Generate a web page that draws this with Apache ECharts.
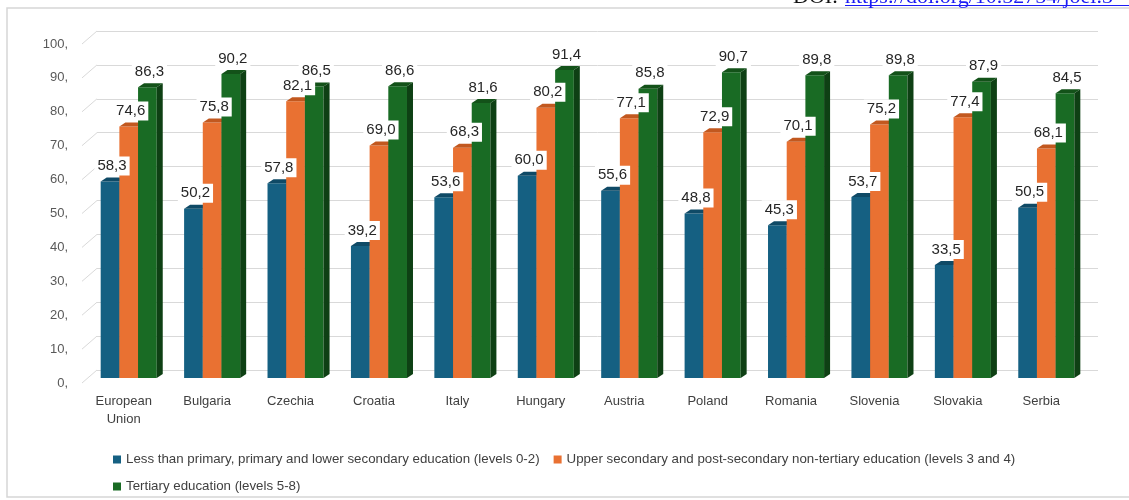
<!DOCTYPE html>
<html>
<head>
<meta charset="utf-8">
<script src="https://cdn.jsdelivr.net/npm/echarts@6/dist/echarts.min.js"></script>
<style>
  html, body { margin: 0; padding: 0; background: #fff; }
  #chart { width: 1129px; height: 500px; }
</style>
</head>
<body>
<div id="chart"></div>
<script>
// data
const categories = ['European\nUnion', 'Bulgaria', 'Czechia', 'Croatia', 'Italy', 'Hungary',
  'Austria', 'Poland', 'Romania', 'Slovenia', 'Slovakia', 'Serbia'];
const lowerSecondary = [58.3, 50.2, 57.8, 39.2, 53.6, 60.0, 55.6, 48.8, 45.3, 53.7, 33.5, 50.5];
const upperSecondary = [74.6, 75.8, 82.1, 69.0, 68.3, 80.2, 77.1, 72.9, 70.1, 75.2, 77.4, 68.1];
const tertiary = [86.3, 90.2, 86.5, 86.6, 81.6, 91.4, 85.8, 90.7, 89.8, 89.8, 87.9, 84.5];
const seriesNames = [
  'Less than primary, primary and lower secondary education (levels 0-2)',
  'Upper secondary and post-secondary non-tertiary education (levels 3 and 4)',
  'Tertiary education (levels 5-8)'
];
const yTicks = [0, 10, 20, 30, 40, 50, 60, 70, 80, 90, 100];

// front, top, side colours for each series
const palette = [
  ['#156082', '#0f4a66', '#0d3f57'],
  ['#e97132', '#c2581f', '#a84c1a'],
  ['#196b24', '#135219', '#0e4014']
];

const chart = echarts.init(document.getElementById('chart'));
const FONT = '"Liberation Sans", Arial, sans-serif';

function fmt(v) {
  return v.toFixed(1).replace('.', ',');
}

// 3d-looking bar: front face, top cap, right side
function barRenderer(k) {
  return function (params, api) {
    const i = api.value(0);
    const v = api.value(1);
    const top = api.coord([i, v]);
    const base = api.coord([i, 0]);
    const band = api.size([1, 0])[0];
    const w = band * 0.224;
    const dx = 6, dy = 4;
    const x0 = top[0] - 1.5 * w + band * 0.06 + k * w;
    const yT = top[1], yB = base[1];
    const c = palette[k];
    return {
      type: 'group',
      children: [
        { type: 'rect', shape: { x: x0, y: yT, width: w, height: yB - yT }, style: { fill: c[0] } },
        { type: 'polygon', shape: { points: [[x0, yT], [x0 + dx, yT - dy], [x0 + w + dx, yT - dy], [x0 + w, yT]] }, style: { fill: c[1] } },
        { type: 'polygon', shape: { points: [[x0 + w, yT], [x0 + w + dx, yT - dy], [x0 + w + dx, yB - dy], [x0 + w, yB]] }, style: { fill: c[2] } },
        {
          type: 'text', z2: 100,
          style: {
            x: x0 + w / 2 + 2, y: yT - 15.5, text: fmt(v),
            align: 'center', verticalAlign: 'middle',
            font: '15px ' + FONT, fill: '#262626',
            backgroundColor: '#fff', padding: [2, 3]
          }
        }
      ]
    };
  };
}

const dataSets = [lowerSecondary, upperSecondary, tertiary];
const barSeries = dataSets.map((arr, k) => ({
  name: seriesNames[k],
  type: 'custom',
  xAxisIndex: 0,
  yAxisIndex: 0,
  itemStyle: { color: palette[k][0] },
  renderItem: barRenderer(k),
  data: arr.map((v, i) => [i, v])
}));

const option = {
  animation: false,
  backgroundColor: '#fff',
  graphic: [
    { type: 'rect', shape: { x: 7, y: 8, width: 1130, height: 489 }, style: { fill: 'none', stroke: '#d6d6d6', lineWidth: 1.5 }, z: -10 },
    { type: 'text', style: { x: 793, y: -3, text: 'DOI:', font: '22px "Liberation Serif", serif', fill: '#111', verticalAlign: 'middle' } },
    { type: 'text', style: { x: 845, y: -3, text: 'https://doi.org/10.52754/joel.3', font: '22px "Liberation Serif", serif', fill: '#1b1bf5', verticalAlign: 'middle' } },
    { type: 'line', shape: { x1: 845, y1: 5.5, x2: 1129, y2: 5.5 }, style: { stroke: '#1b1bf5', lineWidth: 1 } }
  ],
  legend: {
    left: 108,
    top: 448,
    width: 960,
    icon: 'rect',
    itemWidth: 8,
    itemHeight: 8,
    itemGap: 14,
    textStyle: { fontFamily: FONT, fontSize: 13.3, color: '#404040' },
    data: seriesNames
  },
  grid: [
    { left: 82, right: 46, top: 41, bottom: 122 },   // bars (front)
    { left: 97, right: 31, top: 31, bottom: 130 },   // back wall
    { left: 82, right: 46, top: 44, bottom: 117 }    // label plane
  ],
  xAxis: [
    {
      gridIndex: 0, type: 'category', data: categories,
      axisLine: { show: false }, axisTick: { show: false },
      axisLabel: { interval: 0, margin: 14, fontFamily: FONT, fontSize: 13, lineHeight: 18, color: '#404040' }
    },
    { gridIndex: 1, type: 'value', show: false, min: 0, max: 1 },
    { gridIndex: 2, type: 'value', show: false, min: 0, max: 1 }
  ],
  yAxis: [
    { gridIndex: 0, type: 'value', min: 0, max: 100, interval: 10, show: false },
    {
      gridIndex: 1, type: 'value', min: 0, max: 100, interval: 10,
      axisLabel: { show: false }, axisLine: { show: false }, axisTick: { show: false },
      splitLine: { show: true, lineStyle: { color: '#d9d9d9', width: 1 } }
    },
    {
      gridIndex: 2, type: 'value', min: 0, max: 100, interval: 10,
      axisLine: { show: false }, axisTick: { show: false }, splitLine: { show: false },
      axisLabel: { margin: 14, fontFamily: FONT, fontSize: 13, color: '#595959', formatter: v => v + ',' }
    }
  ],
  series: [
    {
      // depth lines joining the label plane to the back wall
      type: 'custom',
      xAxisIndex: 2,
      yAxisIndex: 2,
      z: 1,
      silent: true,
      renderItem: function (params, api) {
        const p = api.coord([0, api.value(0)]);
        return {
          type: 'line',
          shape: { x1: p[0], y1: p[1], x2: p[0] + 15, y2: p[1] - 13 },
          style: { stroke: '#d9d9d9', lineWidth: 1 }
        };
      },
      data: yTicks.map(v => [v])
    }
  ].concat(barSeries)
};

chart.setOption(option);
</script>
</body>
</html>
